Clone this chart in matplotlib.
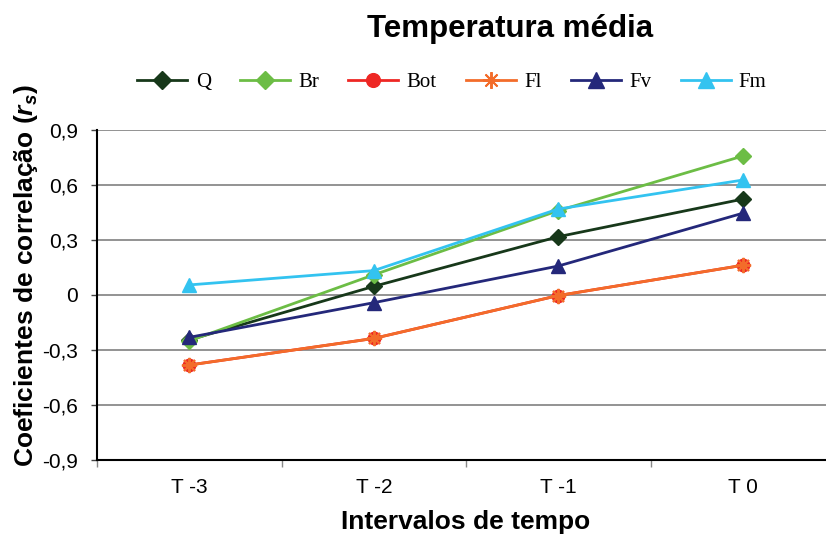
import matplotlib
matplotlib.use("Agg")
import matplotlib.pyplot as plt
import numpy as np

plt.rcParams["mathtext.fontset"] = "custom"
plt.rcParams["mathtext.it"] = "Liberation Sans:italic:bold"
plt.rcParams["mathtext.rm"] = "Liberation Sans:bold"

# Categories and series values (Spearman correlation coefficients)
intervals = ["T -3", "T -2", "T -1", "T 0"]
q_vals = [-0.245, 0.047, 0.318, 0.523]
br_vals = [-0.25, 0.11, 0.46, 0.758]
bot_vals = [-0.382, -0.237, -0.003, 0.162]
fl_vals = [-0.382, -0.237, -0.003, 0.162]
fv_vals = [-0.231, -0.042, 0.158, 0.446]
fm_vals = [0.055, 0.133, 0.469, 0.627]

y_ticks = [-0.9, -0.6, -0.3, 0.0, 0.3, 0.6, 0.9]
y_tick_labels = ["-0,9", "-0,6", "-0,3", "0", "0,3", "0,6", "0,9"]

series = [
    ("Q", q_vals, "#17381a", dict(marker="D", markersize=8)),
    ("Br", br_vals, "#6cbd45", dict(marker="D", markersize=8)),
    ("Bot", bot_vals, "#ee2724", dict(marker="o", markersize=9)),
    ("Fl", fl_vals, "#f36c2a", dict(marker=(8, 2, 0), markersize=11, markeredgewidth=1.4)),
    ("Fv", fv_vals, "#24287a", dict(marker="^", markersize=10)),
    ("Fm", fm_vals, "#33c3f0", dict(marker="^", markersize=10)),
]

W, H = 826, 535
fig = plt.figure(figsize=(W / 100, H / 100), dpi=100)
ax = fig.add_axes([97 / W, 75 / H, (835 - 97) / W, 330 / H])

x = np.arange(len(intervals))
for name, vals, color, mk in series:
    ax.plot(x, vals, color=color, linewidth=2.0, label=name,
            markerfacecolor=color, markeredgecolor=color, **mk)

ax.set_xlim(-0.5, len(intervals) - 0.5)
ax.set_ylim(-0.9, 0.9)

ax.set_yticks(y_ticks)
ax.set_yticklabels(y_tick_labels, fontfamily="Liberation Sans", fontsize=15)
ax.set_xticks(x)
ax.set_xticklabels(intervals, fontfamily="Liberation Sans", fontsize=15)
ax.set_xticks(np.arange(-0.5, len(intervals), 1.0), minor=True)
ax.tick_params(axis="x", which="major", length=0, pad=13)
ax.tick_params(axis="x", which="minor", length=5, width=1, color="#888888")
ax.tick_params(axis="y", which="major", length=4.5, width=1, color="#444444", pad=9)

for yv in y_ticks[1:]:
    ax.axhline(yv, color="#8a8a8a", linewidth=1.3, zorder=0)

for side in ("top", "right"):
    ax.spines[side].set_visible(False)
ax.spines["left"].set_linewidth(1.5)
ax.spines["bottom"].set_linewidth(1.5)

fig.text(466 / W, 1 - 522 / H, "Intervalos de tempo", ha="center", va="center",
         fontfamily="Liberation Sans", fontweight="bold", fontsize=19)
fig.text(26 / W, 1 - 276 / H, r"Coeficientes de correlação ($r_s$)",
         ha="center", va="center", rotation=90,
         fontfamily="Liberation Sans", fontweight="bold", fontsize=19)

fig.text(510 / W, 1 - 37 / H, "Temperatura média", ha="center", va="baseline",
         fontfamily="Liberation Sans", fontweight="bold", fontsize=22.5)

fig.legend(loc="center", bbox_to_anchor=(452 / W, 1 - 82 / H), ncol=6,
           frameon=False, prop={"family": "Liberation Serif", "size": 15},
           handlelength=2.4, columnspacing=1.4, handletextpad=0.4,
           markerscale=1.1)

fig.savefig("out.png", dpi=100)
